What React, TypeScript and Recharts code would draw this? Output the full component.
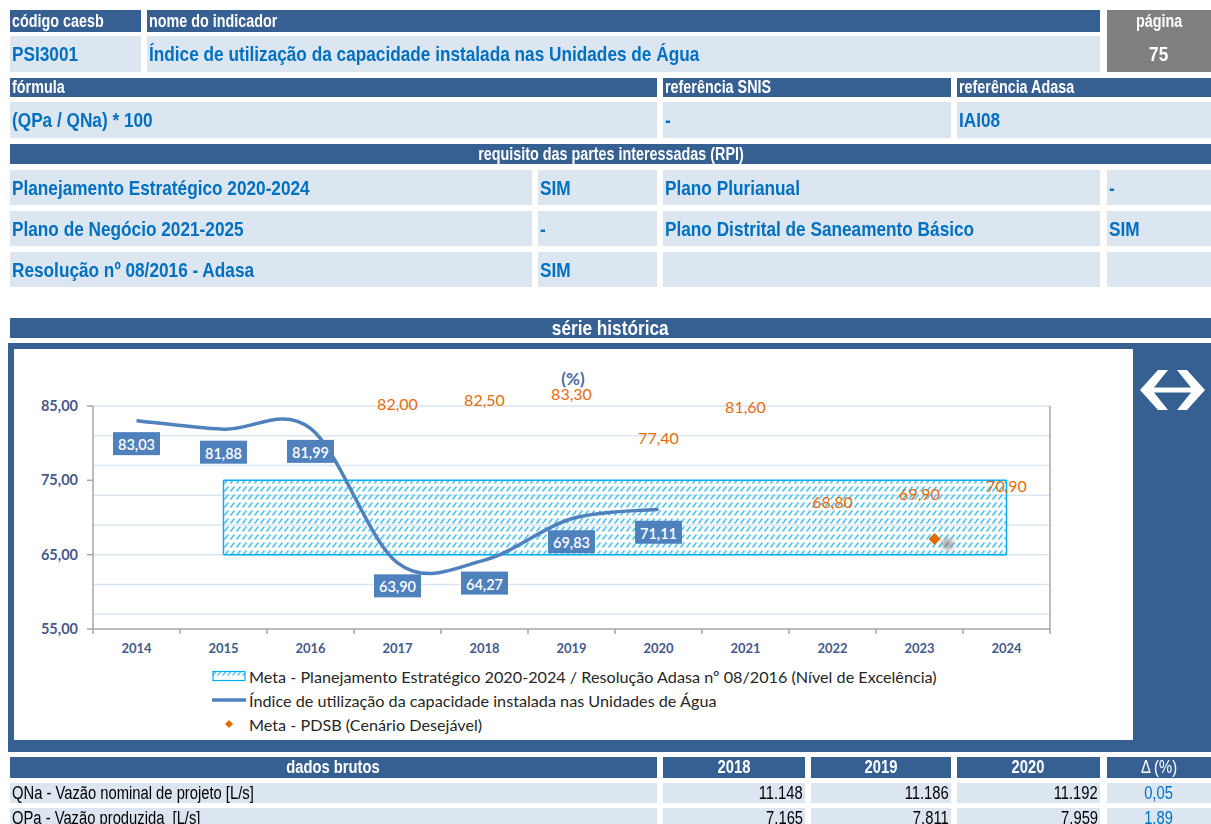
import React from "react";
import {
  ComposedChart,
  Area,
  Line,
  Scatter,
  XAxis,
  YAxis,
  CartesianGrid,
  ReferenceLine,
} from "recharts";

// --- chart data ---
const years = ["2014", "2015", "2016", "2017", "2018", "2019", "2020", "2021", "2022", "2023", "2024"];
const indice = [83.03, 81.88, 81.99, 63.9, 64.27, 69.83, 71.11, null, null, null, null];
const metaPdsb = [null, null, null, 82.0, 82.5, 83.3, 77.4, 81.6, 68.8, 69.9, 70.9];
const metaPeLow = [null, 65, 65, 65, 65, 65, 65, 65, 65, 65, 65];
const metaPeHigh = [null, 75, 75, 75, 75, 75, 75, 75, 75, 75, 75];
const pdsbMarker = [null, null, null, null, null, null, null, null, null, 67.1, null];
const yTicks = [55, 65, 75, 85];
const gridValues = [57, 59, 61, 63, 65, 67, 69, 71, 73, 75, 77, 79, 81, 83, 85];

// --- raw data table ---
const rawYears = ["2018", "2019", "2020"];
const qna = ["11.148", "11.186", "11.192"];
const qpa = ["7.165", "7.811", "7.959"];
const deltas = ["0,05", "1,89"];

const data = years.map((year, i) => ({
  year,
  indice: indice[i],
  metaPdsb: metaPdsb[i],
  metaPe: metaPeLow[i] != null ? [metaPeLow[i], metaPeHigh[i]] : null,
  pdsbMarker: pdsbMarker[i],
}));

const peFirst = metaPeLow.findIndex((v) => v != null);
const peLast = metaPeLow.length - 1 - [...metaPeLow].reverse().findIndex((v) => v != null);

const HEAD = "#366092";
const LIGHT = "#dce6f1";
const BLUE_TXT = "#0070c0";
const LINE = "#4f81bd";
const ORANGE = "#e46c0a";
const AXIS_TXT = "#45598a";
const SANS = "'Liberation Sans', Arial, sans-serif";
const CAL = "Lato, 'Open Sans', sans-serif";

const fmt = (v: number) => v.toFixed(2).replace(".", ",");

// Excel-like smoothed line (Catmull-Rom as bezier)
function excelCurve(context: any) {
  let pts: [number, number][] = [];
  return {
    areaStart() {},
    areaEnd() {},
    lineStart() {
      pts = [];
    },
    lineEnd() {
      const n = pts.length;
      if (!n) return;
      context.moveTo(pts[0][0], pts[0][1]);
      for (let i = 0; i < n - 1; i++) {
        const p0 = pts[Math.max(i - 1, 0)];
        const p1 = pts[i];
        const p2 = pts[i + 1];
        const p3 = pts[Math.min(i + 2, n - 1)];
        context.bezierCurveTo(
          p1[0] + (p2[0] - p0[0]) / 6,
          p1[1] + (p2[1] - p0[1]) / 6,
          p2[0] - (p3[0] - p1[0]) / 6,
          p2[1] - (p3[1] - p1[1]) / 6,
          p2[0],
          p2[1]
        );
      }
    },
    point(x: number, y: number) {
      pts.push([+x, +y]);
    },
  };
}

type CellProps = {
  x: number;
  y: number;
  w: number;
  h: number;
  bg: string;
  color?: string;
  size?: number;
  bold?: boolean;
  align?: "left" | "center" | "right";
  children?: React.ReactNode;
};

// narrow (Arial Narrow-like) text by squeezing Liberation Sans
function Cell({ x, y, w, h, bg, color = "#fff", size = 17.5, bold = true, align = "left", children }: CellProps) {
  return (
    <div
      style={{
        position: "absolute",
        left: x,
        top: y,
        width: w,
        height: h,
        background: bg,
        color,
        fontSize: size,
        fontWeight: bold ? 700 : 400,
        fontFamily: SANS,
        display: "flex",
        alignItems: "center",
        justifyContent: align === "left" ? "flex-start" : align === "right" ? "flex-end" : "center",
        padding: "0 2px",
        boxSizing: "border-box",
        whiteSpace: "pre",
        overflow: "visible",
      }}
    >
      <span style={{ display: "inline-block", transform: "scaleX(0.82)", transformOrigin: `${align} center` }}>{children}</span>
    </div>
  );
}

const IndiceLabel = (props: any) => {
  const { value } = props;
  const x = props.x ?? props.viewBox?.x;
  const y = props.y ?? props.viewBox?.y;
  if (value == null || x == null) return null;
  const w = 47;
  const h = 23;
  return (
    <g>
      <rect x={x - w / 2} y={y + 23 - h / 2} width={w} height={h} fill={LINE} />
      <text x={x} y={y + 24} textAnchor="middle" dominantBaseline="central" fill="#fff" fontSize={14.5} fontWeight={600} fontFamily={CAL}>
        {fmt(value)}
      </text>
    </g>
  );
};

const PdsbLabel = (props: any) => {
  const { value } = props;
  const x = props.x ?? props.viewBox?.x;
  const y = props.y ?? props.viewBox?.y;
  if (value == null || x == null) return null;
  return (
    <text x={x} y={y - 25} textAnchor="middle" dominantBaseline="central" fill={ORANGE} fontSize={16} fontFamily={CAL}>
      {fmt(value)}
    </text>
  );
};

const XTick = (props: any) => {
  const { x, y, payload, index } = props;
  const half = payload?.offset || 43.5;
  return (
    <g>
      <line x1={x - half} x2={x - half} y1={y} y2={y + 5} stroke="#a6a6a6" strokeWidth={1.5} />
      {index === years.length - 1 && <line x1={x + half} x2={x + half} y1={y} y2={y + 5} stroke="#a6a6a6" strokeWidth={1.5} />}
      <text x={x} y={y + 19} textAnchor="middle" dominantBaseline="central" fill={AXIS_TXT} fontSize={13} fontWeight={700} fontFamily={CAL}>
        {payload.value}
      </text>
    </g>
  );
};

const Diamond = (props: any) => {
  const { cx, cy } = props;
  if (cx == null || cy == null) return null;
  const x = cx + 15;
  const s = 6;
  return (
    <g>
      <defs>
        <filter id="blurShadow" x="-50%" y="-50%" width="200%" height="200%">
          <feGaussianBlur stdDeviation="2" />
        </filter>
      </defs>
      <circle cx={x + 13} cy={cy + 5} r={6} fill="#8a8a8a" opacity={0.7} filter="url(#blurShadow)" />
      <polygon points={`${x},${cy - s} ${x + s},${cy} ${x},${cy + s} ${x - s},${cy}`} fill="#e36c09" />
    </g>
  );
};

const legendItems = [
  { key: "pe", label: "Meta - Planejamento Estratégico 2020-2024 / Resolução Adasa nº 08/2016 (Nível de Excelência)" },
  { key: "indice", label: "Índice de utilização da capacidade instalada nas Unidades de Água" },
  { key: "pdsb", label: "Meta - PDSB (Cenário Desejável)" },
];

function LegendIcon({ k }: { k: string }) {
  return (
    <svg width={34} height={14} style={{ marginRight: 3 }}>
      {k === "pe" && <rect x={1} y={2.5} width={32} height={9} fill="url(#hatchLegend)" stroke="#00b0f0" strokeWidth={1.2} />}
      {k === "indice" && <line x1={0} x2={34} y1={7} y2={7} stroke={LINE} strokeWidth={3.5} />}
      {k === "pdsb" && <polygon points="17,3 21,7 17,11 13,7" fill="#e36c09" />}
    </svg>
  );
}

export default function App() {
  return (
    <div style={{ position: "relative", width: 1211, height: 824, overflow: "hidden", background: "#fff" }}>
      <style>{"body{margin:0}"}</style>

      {/* header block */}
      <Cell x={10} y={10} w={131} h={22} bg={HEAD}>código caesb</Cell>
      <Cell x={147} y={10} w={953} h={22} bg={HEAD}>nome do indicador</Cell>
      <div style={{ position: "absolute", left: 1107, top: 10, width: 104, height: 62, background: "#808080" }} />
      <Cell x={1107} y={10} w={104} h={22} bg="transparent" align="center">página</Cell>
      <Cell x={1107} y={36} w={104} h={36} bg="transparent" size={21} align="center">75</Cell>
      <Cell x={10} y={36} w={131} h={36} bg={LIGHT} color={BLUE_TXT} size={21}>PSI3001</Cell>
      <Cell x={147} y={36} w={953} h={36} bg={LIGHT} color={BLUE_TXT} size={21}>Índice de utilização da capacidade instalada nas Unidades de Água</Cell>

      <Cell x={10} y={78} w={647} h={19} bg={HEAD}>fórmula</Cell>
      <Cell x={663} y={78} w={288} h={19} bg={HEAD}>referência SNIS</Cell>
      <Cell x={957} y={78} w={254} h={19} bg={HEAD}>referência Adasa</Cell>
      <Cell x={10} y={102} w={647} h={36} bg={LIGHT} color={BLUE_TXT} size={21}>(QPa / QNa) * 100</Cell>
      <Cell x={663} y={102} w={288} h={36} bg={LIGHT} color={BLUE_TXT} size={21}>-</Cell>
      <Cell x={957} y={102} w={254} h={36} bg={LIGHT} color={BLUE_TXT} size={21}>IAI08</Cell>

      <Cell x={10} y={144} w={1201} h={20} bg={HEAD} align="center">requisito das partes interessadas (RPI)</Cell>
      {[
        ["Planejamento Estratégico 2020-2024", "SIM", "Plano Plurianual", "-"],
        ["Plano de Negócio 2021-2025", "-", "Plano Distrital de Saneamento Básico", "SIM"],
        ["Resolução nº 08/2016 - Adasa", "SIM", "", ""],
      ].map((row, i) => {
        const y = 170 + i * 41;
        return (
          <React.Fragment key={i}>
            <Cell x={10} y={y} w={522} h={35} bg={LIGHT} color={BLUE_TXT} size={21}>{row[0]}</Cell>
            <Cell x={538} y={y} w={119} h={35} bg={LIGHT} color={BLUE_TXT} size={21}>{row[1]}</Cell>
            <Cell x={663} y={y} w={437} h={35} bg={LIGHT} color={BLUE_TXT} size={21}>{row[2]}</Cell>
            <Cell x={1107} y={y} w={104} h={35} bg={LIGHT} color={BLUE_TXT} size={21}>{row[3]}</Cell>
          </React.Fragment>
        );
      })}

      <Cell x={10} y={318} w={1201} h={20} bg={HEAD} size={21} align="center">série histórica</Cell>

      {/* chart frame */}
      <div style={{ position: "absolute", left: 8, top: 343, width: 1203, height: 409, background: HEAD }} />
      <svg style={{ position: "absolute", left: 1133, top: 343 }} width={78} height={100}>
        <g transform="translate(-1133,-343)" fill="#fff">
          <polygon points="1158,370 1168,370 1152,390 1168,410 1158,410 1140,390" />
          <polygon points="1187,370 1177,370 1193,390 1177,410 1187,410 1205,390" />
          <rect x={1150} y={387.5} width={45} height={5} />
        </g>
      </svg>

      <div style={{ position: "absolute", left: 14, top: 349, width: 1119, height: 391, background: "#fff" }}>
        <ComposedChart width={1119} height={391} data={data} margin={{ top: 57, right: 0, left: 0, bottom: 81 }}>
          <defs>
            <pattern id="hatch" width={6} height={8} patternUnits="userSpaceOnUse">
              <line x1={0.5} y1={6.5} x2={4.5} y2={1.5} stroke="#4cc4f2" strokeWidth={1.6} />
            </pattern>
            <pattern id="hatchLegend" width={5} height={9} patternUnits="userSpaceOnUse">
              <line x1={0.5} y1={6.5} x2={4} y2={2.5} stroke="#4cc4f2" strokeWidth={1.2} />
            </pattern>
          </defs>
          <CartesianGrid vertical={false} horizontalValues={gridValues} stroke="#dce6f2" strokeWidth={1.5} yAxisId="left" />
          <XAxis
            dataKey="year"
            interval={0}
            tickSize={0}
            tickMargin={0}
            height={30}
            padding={{ left: 43.5, right: 43.5 }}
            axisLine={{ stroke: "#a6a6a6", strokeWidth: 1.5 }}
            tick={<XTick />}
          />
          <YAxis
            yAxisId="left"
            domain={[55, 85]}
            ticks={yTicks}
            width={79}
            tickFormatter={fmt}
            tickSize={6}
            tickMargin={9}
            axisLine={{ stroke: "#a6a6a6", strokeWidth: 1.5 }}
            tickLine={{ stroke: "#a6a6a6", strokeWidth: 1.5 }}
            tick={{ fill: AXIS_TXT, fontSize: 14.5, fontWeight: 700, fontFamily: CAL }}
          />
          <YAxis
            yAxisId="right"
            orientation="right"
            domain={[55, 85]}
            ticks={yTicks}
            width={83}
            tickFormatter={fmt}
            tickSize={6}
            tickMargin={7}
            axisLine={{ stroke: "#a6a6a6", strokeWidth: 1.5 }}
            tickLine={{ stroke: "#a6a6a6", strokeWidth: 1.5 }}
            tick={{ fill: AXIS_TXT, fontSize: 14.5, fontWeight: 700, fontFamily: CAL }}
          />
          <Area
            yAxisId="left"
            dataKey="metaPe"
            type="linear"
            stroke="#00b0f0"
            strokeWidth={1.5}
            fill="url(#hatch)"
            fillOpacity={1}
            dot={false}
            activeDot={false}
            isAnimationActive={false}
          />
          <ReferenceLine
            yAxisId="left"
            segment={[
              { x: years[peFirst], y: metaPeLow[peFirst] as number },
              { x: years[peFirst], y: metaPeHigh[peFirst] as number },
            ]}
            stroke="#00b0f0"
            strokeWidth={1.5}
          />
          <ReferenceLine
            yAxisId="left"
            segment={[
              { x: years[peLast], y: metaPeLow[peLast] as number },
              { x: years[peLast], y: metaPeHigh[peLast] as number },
            ]}
            stroke="#00b0f0"
            strokeWidth={1.5}
          />
          <Line
            yAxisId="left"
            dataKey="indice"
            type={excelCurve as any}
            stroke={LINE}
            strokeWidth={3.5}
            dot={false}
            activeDot={false}
            isAnimationActive={false}
            label={<IndiceLabel />}
          />
          <Line
            yAxisId="left"
            dataKey="metaPdsb"
            stroke="none"
            dot={false}
            activeDot={false}
            isAnimationActive={false}
            label={<PdsbLabel />}
          />
          <Scatter yAxisId="left" dataKey="pdsbMarker" shape={<Diamond />} isAnimationActive={false} />
        </ComposedChart>

        <div
          style={{
            position: "absolute",
            left: 559,
            top: 29,
            transform: "translate(-50%,-50%)",
            color: "#4a6aa5",
            fontFamily: CAL,
            fontWeight: 700,
            fontSize: 17,
          }}
        >
          (%)
        </div>

        <div style={{ position: "absolute", left: 198, top: 315, fontFamily: CAL, fontSize: 16.2, color: "#262626" }}>
          {legendItems.map((it) => (
            <div key={it.key} style={{ display: "flex", alignItems: "center", height: 24 }}>
              <LegendIcon k={it.key} />
              <span>{it.label}</span>
            </div>
          ))}
        </div>
      </div>

      {/* raw data */}
      <Cell x={10} y={757} w={647} h={21} bg={HEAD} size={18} align="center">dados brutos</Cell>
      {rawYears.map((yr, i) => (
        <Cell key={yr} x={[663, 811, 957][i]} y={757} w={[142, 140, 143][i]} h={21} bg={HEAD} size={18} align="center">
          {yr}
        </Cell>
      ))}
      <Cell x={1107} y={757} w={104} h={21} bg={HEAD} size={18} align="center" bold={false}>Δ (%)</Cell>

      {[
        ["QNa - Vazão nominal de projeto [L/s]", qna, deltas[0]],
        ["QPa - Vazão produzida  [L/s]", qpa, deltas[1]],
      ].map((row, r) => {
        const y = 783 + r * 25;
        const vals = row[1] as string[];
        return (
          <React.Fragment key={r}>
            <Cell x={10} y={y} w={647} h={20} bg={LIGHT} color="#000" size={18} bold={false}>
              {row[0] as string}
            </Cell>
            {vals.map((v, i) => (
              <Cell key={i} x={[663, 811, 957][i]} y={y} w={[142, 140, 143][i]} h={20} bg={LIGHT} color="#000" size={18} bold={false} align="right">
                {v}
              </Cell>
            ))}
            <Cell x={1107} y={y} w={104} h={20} bg={LIGHT} color={BLUE_TXT} size={18} bold={false} align="center">
              {row[2] as string}
            </Cell>
          </React.Fragment>
        );
      })}
    </div>
  );
}
